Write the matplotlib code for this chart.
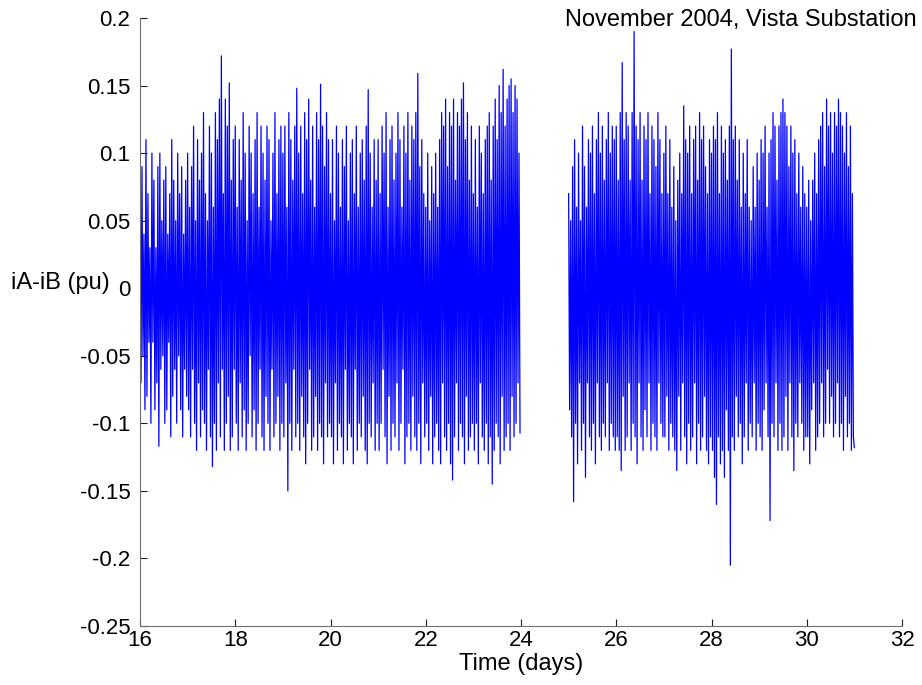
import numpy as np
import matplotlib.pyplot as plt

plt.rcParams['font.family'] = ['Liberation Sans', 'DejaVu Sans']

# half-hourly swings: a peak on the hour, a trough on the half hour
start_1 = 16.0
start_2 = 25.0
samples_per_day = 48

# block 1, days 16-23 (24 values per day)
peaks_1 = [
    0.06, 0.09, 0.04, 0.11, 0.07, 0.03, 0.10, 0.08, 0.03, 0.09, 0.10, 0.05,
    0.08, 0.09, 0.04, 0.07, 0.11, 0.08, 0.05, 0.10, 0.07, 0.09, 0.04, 0.08,
    0.10, 0.06, 0.09, 0.12, 0.05, 0.11, 0.08, 0.10, 0.13, 0.07, 0.05, 0.12,
    0.10, 0.06, 0.13, 0.11, 0.14, 0.172, 0.07, 0.14, 0.12, 0.152, 0.08, 0.11,
    0.12, 0.06, 0.11, 0.08, 0.13, 0.10, 0.05, 0.12, 0.10, 0.07, 0.11, 0.13,
    0.06, 0.12, 0.10, 0.08, 0.12, 0.11, 0.05, 0.10, 0.13, 0.07, 0.11, 0.12,
    0.10, 0.12, 0.06, 0.13, 0.11, 0.08, 0.12, 0.148, 0.10, 0.12, 0.07, 0.13,
    0.11, 0.14, 0.08, 0.12, 0.06, 0.13, 0.11, 0.151, 0.12, 0.09, 0.13, 0.11,
    0.07, 0.11, 0.05, 0.12, 0.10, 0.06, 0.11, 0.09, 0.12, 0.05, 0.10, 0.11,
    0.07, 0.12, 0.06, 0.10, 0.11, 0.08, 0.12, 0.147, 0.10, 0.06, 0.11, 0.08,
    0.11, 0.07, 0.12, 0.10, 0.13, 0.06, 0.11, 0.12, 0.08, 0.10, 0.13, 0.11,
    0.06, 0.12, 0.10, 0.13, 0.08, 0.12, 0.11, 0.13, 0.159, 0.09, 0.11, 0.07,
    0.06, 0.10, 0.05, 0.09, 0.07, 0.10, 0.06, 0.11, 0.13, 0.12, 0.14, 0.09,
    0.13, 0.12, 0.14, 0.08, 0.13, 0.12, 0.14, 0.152, 0.11, 0.13, 0.08, 0.12,
    0.07, 0.11, 0.06, 0.12, 0.10, 0.07, 0.11, 0.12, 0.13, 0.08, 0.12, 0.14,
    0.11, 0.15, 0.13, 0.162, 0.12, 0.14, 0.15, 0.155, 0.13, 0.15, 0.14, 0.10,
]
troughs_1 = [
    -0.07, -0.05, -0.09, -0.08, -0.04, -0.10, -0.04, -0.09, -0.07, -0.117, -0.06, -0.05,
    -0.10, -0.09, -0.04, -0.11, -0.08, -0.06, -0.10, -0.05, -0.09, -0.11, -0.06, -0.08,
    -0.09, -0.11, -0.06, -0.10, -0.12, -0.07, -0.11, -0.09, -0.10, -0.12, -0.06, -0.11,
    -0.132, -0.10, -0.12, -0.07, -0.11, -0.06, -0.12, -0.10, -0.08, -0.12, -0.11, -0.06,
    -0.10, -0.12, -0.07, -0.11, -0.09, -0.12, -0.10, -0.05, -0.11, -0.09, -0.12, -0.10,
    -0.06, -0.11, -0.12, -0.08, -0.10, -0.12, -0.06, -0.11, -0.10, -0.08, -0.12, -0.10,
    -0.11, -0.07, -0.15, -0.10, -0.12, -0.06, -0.11, -0.10, -0.12, -0.08, -0.11, -0.13,
    -0.10, -0.06, -0.12, -0.11, -0.08, -0.12, -0.10, -0.11, -0.13, -0.07, -0.11, -0.10,
    -0.11, -0.13, -0.07, -0.12, -0.10, -0.11, -0.13, -0.06, -0.12, -0.10, -0.11, -0.13,
    -0.06, -0.12, -0.10, -0.11, -0.08, -0.12, -0.13, -0.10, -0.11, -0.07, -0.12, -0.10,
    -0.12, -0.10, -0.06, -0.11, -0.13, -0.08, -0.12, -0.10, -0.11, -0.07, -0.12, -0.10,
    -0.06, -0.13, -0.11, -0.10, -0.12, -0.08, -0.11, -0.12, -0.10, -0.13, -0.07, -0.11,
    -0.10, -0.12, -0.08, -0.13, -0.11, -0.10, -0.12, -0.13, -0.07, -0.11, -0.12, -0.10,
    -0.13, -0.142, -0.11, -0.07, -0.12, -0.10, -0.11, -0.13, -0.08, -0.12, -0.11, -0.10,
    -0.12, -0.10, -0.13, -0.07, -0.11, -0.12, -0.10, -0.13, -0.11, -0.145, -0.12, -0.10,
    -0.11, -0.13, -0.08, -0.12, -0.11, -0.10, -0.12, -0.08, -0.11, -0.10, -0.07, -0.107,
]

# block 2, days 25-30, plus the last reading at day 31
peaks_2 = [
    0.07, 0.05, 0.09, 0.11, 0.06, 0.10, 0.05, 0.12, 0.09, 0.06, 0.11, 0.10,
    0.12, 0.07, 0.11, 0.13, 0.10, 0.12, 0.08, 0.11, 0.13, 0.10, 0.12, 0.11,
    0.12, 0.08, 0.13, 0.167, 0.11, 0.13, 0.12, 0.08, 0.13, 0.19, 0.12, 0.11,
    0.13, 0.08, 0.12, 0.11, 0.13, 0.07, 0.12, 0.11, 0.09, 0.13, 0.11, 0.07,
    0.10, 0.12, 0.07, 0.11, 0.06, 0.09, 0.05, 0.08, 0.10, 0.07, 0.135, 0.11,
    0.10, 0.12, 0.07, 0.11, 0.12, 0.08, 0.13, 0.11, 0.12, 0.09, 0.07, 0.11,
    0.10, 0.12, 0.11, 0.13, 0.07, 0.12, 0.10, 0.11, 0.08, 0.12, 0.177, 0.11,
    0.12, 0.08, 0.11, 0.06, 0.10, 0.07, 0.11, 0.06, 0.05, 0.09, 0.06, 0.10,
    0.08, 0.11, 0.10, 0.12, 0.06, 0.10, 0.11, 0.13, 0.12, 0.08, 0.12, 0.13,
    0.14, 0.13, 0.12, 0.09, 0.12, 0.10, 0.11, 0.07, 0.10, 0.06, 0.09, 0.07,
    0.06, 0.08, 0.05, 0.08, 0.10, 0.07, 0.11, 0.12, 0.13, 0.09, 0.14, 0.12,
    0.13, 0.10, 0.13, 0.12, 0.14, 0.13, 0.12, 0.10, 0.13, 0.09, 0.12, 0.07,
]
troughs_2 = [
    -0.09, -0.11, -0.158, -0.10, -0.13, -0.07, -0.12, -0.10, -0.14, -0.07, -0.11, -0.12,
    -0.10, -0.13, -0.07, -0.11, -0.12, -0.10, -0.11, -0.07, -0.12, -0.10, -0.11, -0.12,
    -0.11, -0.12, -0.135, -0.08, -0.12, -0.11, -0.07, -0.12, -0.10, -0.11, -0.13, -0.07,
    -0.11, -0.12, -0.09, -0.11, -0.07, -0.12, -0.10, -0.11, -0.12, -0.07, -0.10, -0.11,
    -0.11, -0.08, -0.12, -0.10, -0.11, -0.12, -0.135, -0.08, -0.12, -0.07, -0.11, -0.13,
    -0.10, -0.12, -0.11, -0.07, -0.13, -0.10, -0.12, -0.11, -0.08, -0.12, -0.13, -0.11,
    -0.12, -0.14, -0.16, -0.11, -0.13, -0.12, -0.14, -0.09, -0.12, -0.205, -0.11, -0.12,
    -0.08, -0.11, -0.10, -0.13, -0.11, -0.07, -0.12, -0.10, -0.11, -0.07, -0.12, -0.10,
    -0.11, -0.12, -0.09, -0.07, -0.11, -0.172, -0.10, -0.11, -0.07, -0.12, -0.10, -0.12,
    -0.11, -0.08, -0.12, -0.07, -0.11, -0.135, -0.10, -0.11, -0.07, -0.10, -0.12, -0.11,
    -0.11, -0.13, -0.09, -0.07, -0.12, -0.11, -0.10, -0.07, -0.11, -0.10, -0.06, -0.10,
    -0.08, -0.11, -0.10, -0.07, -0.11, -0.10, -0.12, -0.08, -0.11, -0.10, -0.12, -0.11,
]
last_2 = -0.118

y1 = np.column_stack([peaks_1, troughs_1]).ravel()
y2 = np.append(np.column_stack([peaks_2, troughs_2]).ravel(), last_2)
t1 = start_1 + np.arange(len(y1)) / samples_per_day
t2 = start_2 + np.arange(len(y2)) / samples_per_day
# NaN breaks the line over the missing day
t = np.concatenate([t1, [np.nan], t2])
y = np.concatenate([y1, [np.nan], y2])

fig = plt.figure(figsize=(9.22, 6.85), dpi=100)
ax = fig.add_axes([140 / 922, 1 - 626 / 685, 762 / 922, 608 / 685])
ax.plot(t, y, color='#0000ff', linewidth=0.9)

ax.set_xlim(16, 32)
ax.set_ylim(-0.25, 0.2)
ax.set_xticks(range(16, 33, 2))
yticks = [-0.25, -0.2, -0.15, -0.1, -0.05, 0, 0.05, 0.1, 0.15, 0.2]
ax.set_yticks(yticks)
ax.set_yticklabels(['-0.25', '-0.2', '-0.15', '-0.1', '-0.05', '0',
                    '0.05', '0.1', '0.15', '0.2'])

for s in ['top', 'right']:
    ax.spines[s].set_visible(False)
for s in ['left', 'bottom']:
    ax.spines[s].set_color('#707070')
    ax.spines[s].set_linewidth(0.8)
ax.tick_params(direction='in', length=5, width=0.8, color='#202020',
               labelsize=16)
ax.tick_params(axis='x', pad=3)
ax.tick_params(axis='y', pad=7)

ax.set_xlabel('Time (days)', fontsize=17, labelpad=1)
fig.text(110 / 922, 1 - 283 / 685, 'iA-iB (pu)', fontsize=17,
         ha='right', va='center')
fig.text(741 / 922, 1 - 20 / 685, 'November 2004, Vista Substation',
         fontsize=17, ha='center', va='center')

fig.savefig('out.png', dpi=100)
